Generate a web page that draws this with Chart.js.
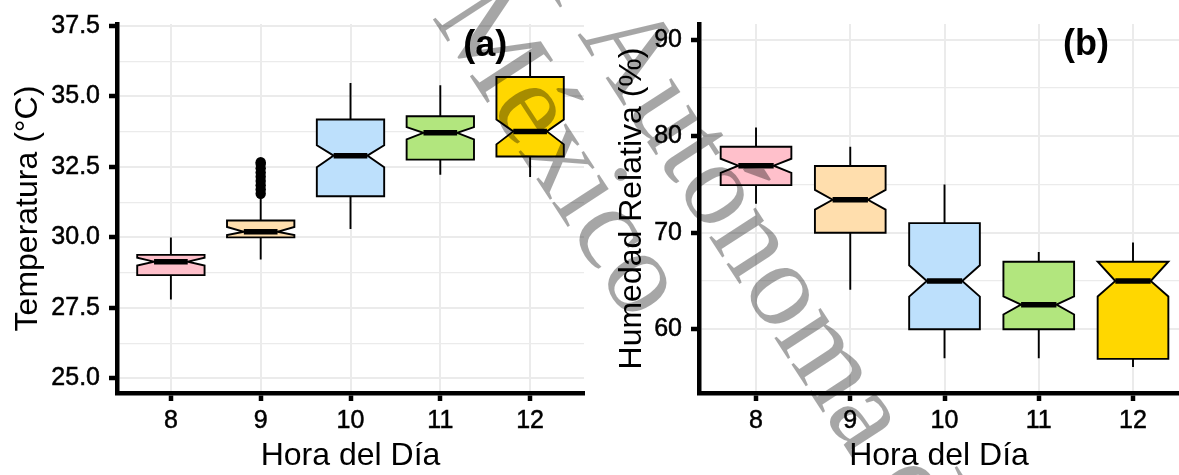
<!DOCTYPE html>
<html>
<head>
<meta charset="utf-8">
<script src="https://cdn.jsdelivr.net/npm/chart.js@4.4.0/dist/chart.umd.min.js"></script>
<style>
  body { margin: 0; background: #fff; width: 1179px; height: 475px; overflow: hidden; position: relative; }
  #chartA { position: absolute; left: 0; top: 0; }
  #chartB { position: absolute; left: 595px; top: 0; }
  #marca { position: absolute; left: 0; top: 0; pointer-events: none; }
</style>
</head>
<body>
<canvas id="chartA" width="595" height="475"></canvas>
<canvas id="chartB" width="584" height="475"></canvas>
<canvas id="marca" width="1179" height="475"></canvas>
<script>
// Hora del día (categorías) y colores de relleno
const horas = [8, 9, 10, 11, 12];
const colores = ['#FFC0CB', '#FFDEAD', '#BDE0FC', '#B2E67E', '#FFD700'];

// (a) Temperatura (°C)
const tMin     = [27.8, 29.22, 30.3, 32.22, 32.14];
const tQ1      = [28.66, 30.0, 31.46, 32.76, 32.87];
const tMed     = [29.14, 30.2, 32.9, 33.71, 33.76];
const tQ3      = [29.38, 30.6, 34.18, 34.3, 35.69];
const tMax     = [30.0, 31.4, 35.48, 35.4, 36.57];
const tNotchLo = [29.0, 30.08, 32.49, 33.48, 33.3];
const tNotchHi = [29.28, 30.37, 33.27, 33.91, 34.18];
const tAtipicos = [[], [31.55, 31.7, 31.85, 32.0, 32.15, 32.3, 32.45, 32.6, 32.67], [], [], []];
const tTicks = [25, 27.5, 30, 32.5, 35, 37.5];

// (b) Humedad Relativa (%)
const hMin     = [73.0, 64.1, 57.0, 57.0, 56.1];
const hQ1      = [74.94, 70.0, 60.0, 60.0, 56.94];
const hMed     = [76.95, 73.42, 65.0, 62.55, 65.0];
const hQ3      = [78.92, 76.92, 71.0, 67.0, 67.0];
const hMax     = [80.9, 78.9, 75.0, 68.0, 69.0];
const hNotchLo = [76.2, 72.4, 63.39, 61.53, 63.4];
const hNotchHi = [77.67, 74.44, 66.63, 63.4, 67.0];
const hAtipicos = [[], [], [], [], []];
const hTicks = [60, 70, 80, 90];

const fuente = '"Liberation Sans", Arial, sans-serif';

// cajas con muesca (estilo ggplot notch=TRUE), dibujadas con las escalas del gráfico
function cajasPlugin(d) {
  return {
    id: 'cajas',
    beforeDatasetsDraw(chart) {
      const { ctx, scales: { x, y }, chartArea } = chart;
      const py = v => y.getPixelForValue(v);
      ctx.save();
      ctx.beginPath();
      ctx.rect(chartArea.left, chartArea.top, chartArea.width, chartArea.height);
      ctx.clip();
      ctx.strokeStyle = '#000';
      horas.forEach((h, i) => {
        const cx = x.getPixelForValue(h);
        const half = x.getPixelForValue(h + 0.375) - cx;
        const ind = half * 0.5;
        // bigotes
        ctx.lineWidth = 1.9;
        ctx.beginPath();
        ctx.moveTo(cx, py(d.q3[i])); ctx.lineTo(cx, py(d.max[i]));
        ctx.moveTo(cx, py(d.q1[i])); ctx.lineTo(cx, py(d.min[i]));
        ctx.stroke();
        // caja
        ctx.beginPath();
        ctx.moveTo(cx - half, py(d.q3[i]));
        ctx.lineTo(cx - half, py(d.nHi[i]));
        ctx.lineTo(cx - ind, py(d.med[i]));
        ctx.lineTo(cx - half, py(d.nLo[i]));
        ctx.lineTo(cx - half, py(d.q1[i]));
        ctx.lineTo(cx + half, py(d.q1[i]));
        ctx.lineTo(cx + half, py(d.nLo[i]));
        ctx.lineTo(cx + ind, py(d.med[i]));
        ctx.lineTo(cx + half, py(d.nHi[i]));
        ctx.lineTo(cx + half, py(d.q3[i]));
        ctx.closePath();
        ctx.fillStyle = colores[i];
        ctx.fill();
        ctx.stroke();
        // mediana
        ctx.lineWidth = 5.5;
        ctx.beginPath();
        ctx.moveTo(cx - ind, py(d.med[i]));
        ctx.lineTo(cx + ind, py(d.med[i]));
        ctx.stroke();
      });
      ctx.restore();
    },
    afterDatasetsDraw(chart) {
      const { ctx, scales: { x, y } } = chart;
      ctx.save();
      ctx.font = 'bold 36px ' + fuente;
      ctx.fillStyle = '#000';
      ctx.textAlign = 'center';
      ctx.textBaseline = 'middle';
      ctx.fillText(d.etiqueta, x.getPixelForValue(d.etqX), y.getPixelForValue(d.etqY));
      ctx.restore();
    }
  };
}

function crearPanel(id, d) {
  const mayores = d.ticks;
  const menores = mayores.slice(1).map((v, i) => (v + mayores[i]) / 2);
  const todos = mayores.concat(menores).sort((a, b) => a - b);
  const esMayor = v => mayores.includes(v);
  return new Chart(document.getElementById(id), {
    type: 'scatter',
    data: {
      datasets: [{
        data: d.atipicos.flatMap((vals, i) => vals.map(v => ({ x: horas[i], y: v }))),
        pointRadius: 5.2,
        pointHoverRadius: 5.2,
        backgroundColor: '#000',
        borderWidth: 0
      }]
    },
    options: {
      responsive: false,
      animation: false,
      devicePixelRatio: 1,
      layout: { padding: { top: 18, left: 0, right: d.padDer, bottom: 0 } },
      plugins: { legend: { display: false }, tooltip: { enabled: false } },
      scales: {
        x: {
          type: 'linear',
          min: d.xMin,
          max: d.xMax,
          afterBuildTicks: s => { s.ticks = horas.map(v => ({ value: v })); },
          afterFit: s => { s.height = 82; },
          grid: { color: '#EBEBEB', lineWidth: 2, tickLength: 8, tickWidth: 4.5, tickColor: '#000' },
          border: { display: true, color: '#000', width: 4.5 },
          ticks: { color: '#000', font: { family: fuente, size: 25 }, padding: 5, autoSkip: false, maxRotation: 0,
                   textStrokeColor: '#000', textStrokeWidth: 0.5,
                   callback: v => String(v) },
          title: { display: true, text: 'Hora del Día', color: '#000', font: { family: fuente, size: 32 },
                   padding: { top: 0, bottom: 0 } }
        },
        y: {
          min: d.yMin,
          max: d.yMax,
          afterBuildTicks: s => { s.ticks = todos.map(v => ({ value: v })); },
          afterFit: s => { s.width = d.anchoY; },
          grid: {
            color: '#EBEBEB',
            lineWidth: c => esMayor(c.tick.value) ? 2 : 1.2,
            tickLength: 8,
            tickWidth: 4.5,
            tickColor: c => esMayor(c.tick.value) ? '#000' : 'rgba(0,0,0,0)'
          },
          border: { display: true, color: '#000', width: 4.5 },
          ticks: { color: '#000', font: { family: fuente, size: 25 }, padding: 9, autoSkip: false,
                   textStrokeColor: '#000', textStrokeWidth: 0.5,
                   callback: v => esMayor(v) ? d.fmt(v) : '' },
          title: { display: true, text: d.tituloY, color: '#000', font: { family: fuente, size: 32 },
                   padding: { top: d.padTitulo, bottom: 0 } }
        }
      }
    },
    plugins: [cajasPlugin(d)]
  });
}

crearPanel('chartA', {
  min: tMin, q1: tQ1, med: tMed, q3: tQ3, max: tMax, nLo: tNotchLo, nHi: tNotchHi,
  atipicos: tAtipicos, ticks: tTicks, fmt: v => v.toFixed(1),
  tituloY: 'Temperatura (°C)', etiqueta: '(a)', etqX: 11.5, etqY: 36.77,
  xMin: 7.4, xMax: 12.6, yMin: 24.48, yMax: 37.57, anchoY: 117, padTitulo: 9, padDer: 11
});

crearPanel('chartB', {
  min: hMin, q1: hQ1, med: hMed, q3: hQ3, max: hMax, nLo: hNotchLo, nHi: hNotchHi,
  atipicos: hAtipicos, ticks: hTicks, fmt: v => String(v),
  tituloY: 'Humedad Relativa (%)', etiqueta: '(b)', etqX: 11.5, etqY: 89.4,
  xMin: 7.395, xMax: 12.488, yMin: 53.4, yMax: 91.63, anchoY: 104, padTitulo: 18, padDer: 0
});

// marca de agua diagonal
const marca = document.getElementById('marca').getContext('2d');
marca.font = '120px "Liberation Serif", "DejaVu Serif", serif';
marca.fillStyle = 'rgba(0,0,0,0.35)';
function lineaMarca(texto, prefijo, x, y) {
  marca.save();
  marca.translate(x, y);
  marca.rotate(57 * Math.PI / 180);
  marca.fillText(texto, -marca.measureText(prefijo).width, 0);
  marca.restore();
}
lineaMarca('Universidad Autónoma del', 'Universidad Autóno', 773, 336);
lineaMarca('Estado de México', 'Estado de M', 489, 106);
</script>
</body>
</html>
